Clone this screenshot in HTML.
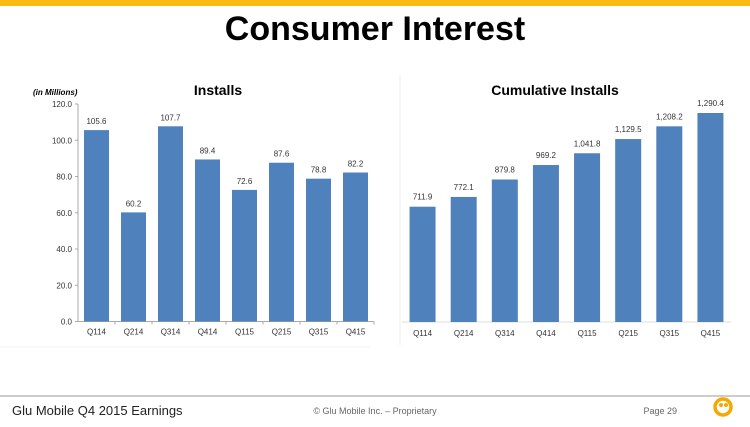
<!DOCTYPE html>
<html><head><meta charset="utf-8"><style>
body{margin:0;width:750px;height:422px;background:#fff;overflow:hidden;font-family:"Liberation Sans",sans-serif}
</style></head><body>
<svg width="750" height="422" xmlns="http://www.w3.org/2000/svg">
<rect x="0" y="0" width="750" height="6" fill="#FDB913"/>
<text x="375" y="40" text-anchor="middle" font-size="34" font-weight="bold" font-family="Liberation Sans, sans-serif">Consumer Interest</text>
<line x1="400" y1="75" x2="400" y2="345" stroke="#eee"/>
<line x1="0" y1="347" x2="370" y2="347" stroke="#f2f2f2"/>
<text x="33" y="95" font-size="8" font-style="italic" font-weight="bold">(in Millions)</text>
<text x="218" y="95" text-anchor="middle" font-size="14" font-weight="bold" font-family="Liberation Sans Narrow, Liberation Sans, sans-serif">Installs</text>
<text x="555" y="95" text-anchor="middle" font-size="14" font-weight="bold" font-family="Liberation Sans Narrow, Liberation Sans, sans-serif">Cumulative Installs</text>
<g id="left"></g><g id="right"></g>
<line x1="0" y1="396" x2="750" y2="396" stroke="#999"/>
<text x="12" y="415" font-size="13" fill="#222">Glu Mobile Q4 2015 Earnings</text>
<text x="375" y="414" text-anchor="middle" font-size="9" fill="#666">© Glu Mobile Inc. – Proprietary</text>
<text x="677" y="414" text-anchor="end" font-size="9" fill="#666">Page 29</text>
<g><circle cx="723" cy="407" r="8" fill="none" stroke="#F5A800" stroke-width="3.5"/><circle cx="721" cy="405" r="2" fill="#F5A800"/><circle cx="726" cy="405" r="2" fill="#F5A800"/></g>
</svg>
<script>
const categories=["Q114","Q214","Q314","Q414","Q115","Q215","Q315","Q415"];
const installs=[105.6,60.2,107.7,89.4,72.6,87.6,78.8,82.2];
const cumulative=[711.9,772.1,879.8,969.2,1041.8,1129.5,1208.2,1290.4];
const leftTicks=[0,20,40,60,80,100,120];
const NS="http://www.w3.org/2000/svg";
function mk(p,t,a,txt){const e=document.createElementNS(NS,t);for(const k in a)e.setAttribute(k,a[k]);if(txt!==undefined)e.textContent=txt;p.appendChild(e);return e;}
const fmt=v=>v.toLocaleString("en-US",{minimumFractionDigits:1,maximumFractionDigits:1});
const L=document.getElementById('left');
const lx0=78,lx1=374,ly0=321.5,ly1=104;
const ly=v=>ly0-(v/120)*(ly0-ly1);
const lbw=(lx1-lx0)/categories.length;
mk(L,'line',{x1:lx0,y1:ly1,x2:lx0,y2:ly0,stroke:'#aaa'});
mk(L,'line',{x1:lx0,y1:ly0,x2:lx1,y2:ly0,stroke:'#aaa'});
leftTicks.forEach(t=>{
 mk(L,'line',{x1:lx0-3,y1:ly(t),x2:lx0,y2:ly(t),stroke:'#aaa'});
 const e=mk(L,'text',{x:lx0-6,y:ly(t)+3,'text-anchor':'end','font-size':8,fill:'#333'},t.toFixed(1));
 
 
});
categories.forEach((c,i)=>{
 const cx=lx0+lbw*(i+0.5),v=installs[i];
 mk(L,'line',{x1:lx0+lbw*(i+1),y1:ly0,x2:lx0+lbw*(i+1),y2:ly0+3,stroke:'#aaa'});
 const r=mk(L,'rect',{x:cx-12.5,y:ly(v),width:25,height:ly0-ly(v),fill:'#4F81BD'});
 
 
 const t=mk(L,'text',{x:cx,y:ly(v)-6,'text-anchor':'middle','font-size':8,fill:'#333'},fmt(v));
 
 
 const x=mk(L,'text',{x:cx,y:ly0+13,'text-anchor':'middle','font-size':8,fill:'#333'},c);
 
 
});
const R=document.getElementById('right');
const rx0=402,rx1=731,ry0=322,rmax=1290.4,rtop=113;
const ry=v=>ry0-(v/rmax)*(ry0-rtop);
const rbw=(rx1-rx0)/categories.length;
mk(R,'line',{x1:rx0,y1:ry0,x2:rx1,y2:ry0,stroke:'#ddd'});
categories.forEach((c,i)=>{
 const cx=rx0+rbw*(i+0.5),v=cumulative[i];
 const r=mk(R,'rect',{x:cx-13,y:ry(v),width:26,height:ry0-ry(v),fill:'#4F81BD'});
 
 
 const t=mk(R,'text',{x:cx,y:ry(v)-7,'text-anchor':'middle','font-size':8,fill:'#333'},fmt(v));
 
 
 const x=mk(R,'text',{x:cx,y:ry0+14,'text-anchor':'middle','font-size':8,fill:'#333'},c);
 
 
});
</script>
</body></html>
